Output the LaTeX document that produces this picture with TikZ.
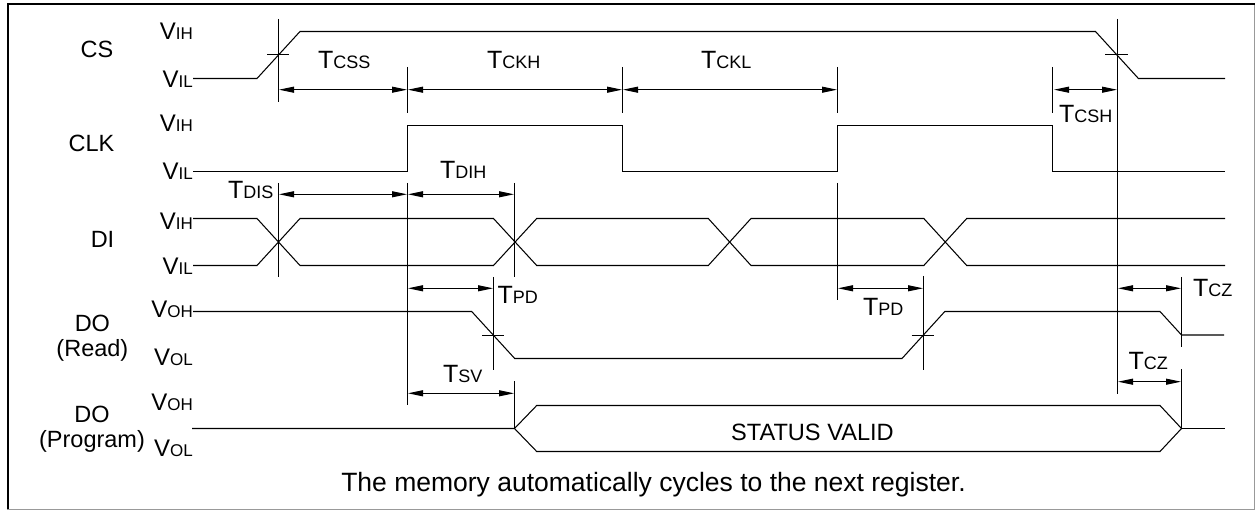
\documentclass[tikz,border=0pt]{standalone}
\usepackage{fontspec}
\setmainfont{Liberation Sans}
\usetikzlibrary{arrows.meta}
\newcommand{\sg}[2]{{\fontsize{24}{26}\selectfont #1\fontsize{17}{20}\selectfont #2}}
\newcommand{\tg}[2]{{\fontsize{25}{27}\selectfont #1\fontsize{18}{20}\selectfont #2}}
\tikzset{
  wave/.style={line width=1.05pt,line join=miter},
  guide/.style={line width=0.9pt},
  dim/.style={line width=0.9pt,{Triangle[length=15pt,width=6pt]}-{Triangle[length=15pt,width=6pt]},shorten >=0.5pt,shorten <=0.5pt},
  sig/.style={font=\fontsize{23.5}{25}\selectfont,align=center,inner sep=0pt,anchor=center},
  lev/.style={inner sep=0pt,anchor=base east},
  tl/.style={inner sep=0pt,anchor=base west},
}
\begin{document}
\begin{tikzpicture}[x=1pt,y=-1pt]
\useasboundingbox (0,0) rectangle (1255,510);
\fill[white] (0,0) rectangle (1255,510);
% frame
\draw[line width=1pt,black!40] (7,509.4) -- (1254.4,509.4) -- (1254.4,3);
\draw[line width=2.4pt,black] (8.2,509) -- (8.2,3.8) -- (1255,3.8);
% signal names
\node[sig] (ncs) at (97,49) {CS};
\node[sig] (nclk) at (91.4,143) {CLK};
\node[sig] (ndi) at (102.5,239) {DI};
\node[sig] (nread) at (92.4,338.5) {DO\\(Read)};
\node[sig] (nprog) at (92,429.5) {DO\\(Program)};
% level labels
\node[lev] (a1) at (193,39.3) {\sg{V}{IH}};
\node[lev] (a2) at (193,87.3) {\sg{V}{IL}};
\node[lev] (a3) at (193,131.7) {\sg{V}{IH}};
\node[lev] (a4) at (193,180) {\sg{V}{IL}};
\node[lev] (a5) at (193,230) {\sg{V}{IH}};
\node[lev] (a6) at (193,275) {\sg{V}{IL}};
\node[lev] (a7) at (193,318) {\sg{V}{OH}};
\node[lev] (a8) at (193,365) {\sg{V}{OL}};
\node[lev] (a9) at (193,410) {\sg{V}{OH}};
\node[lev] (a10) at (193,456) {\sg{V}{OL}};
% CS
\draw[wave] (193,78.5) -- (257,78.5) -- (300,31.5) -- (1095.5,31.5) -- (1138.4,78.5) -- (1225,78.5);
% CLK
\draw[wave] (193,171.5) -- (407.5,171.5) -- (407.5,125.5) -- (622.5,125.5) -- (622.5,171.5) -- (837.5,171.5) -- (837.5,125.5) -- (1052.5,125.5) -- (1052.5,171.5) -- (1225,171.5);
% DI
\draw[wave] (193,218.5) -- (257,218.5) -- (300,265.5) -- (493.5,265.5) -- (536.7,218.5) -- (708.3,218.5) -- (751,265.5) -- (923.8,265.5) -- (966.7,218.5) -- (1225,218.5);
\draw[wave] (193,265.5) -- (257,265.5) -- (300,218.5) -- (493.5,218.5) -- (536.7,265.5) -- (708.3,265.5) -- (751,218.5) -- (923.8,218.5) -- (966.7,265.5) -- (1225,265.5);
% DO read
\draw[wave] (193,311.5) -- (471.7,311.5) -- (514.7,358.5) -- (902,358.5) -- (944.8,311.5) -- (1160,311.5) -- (1181.5,335) -- (1224,335);
% DO program
\draw[wave] (192,428.5) -- (514.5,428.5) -- (536.7,405.5) -- (1160,405.5) -- (1181.5,428.5) -- (1160,451.5) -- (536.7,451.5) -- (514.5,428.5);
\draw[wave] (1181.5,428.5) -- (1225,428.5);
% guides
\coordinate (g1a) at (278.5,19);   \coordinate (g1b) at (278.5,102);
\coordinate (g2a) at (407.5,67);   \coordinate (g2b) at (407.5,113);
\coordinate (g3a) at (622.5,67); \coordinate (g3b) at (622.5,113);
\coordinate (g4a) at (837.5,67);   \coordinate (g4b) at (837.5,113);
\coordinate (g5a) at (1052.5,67);  \coordinate (g5b) at (1052.5,113);
\coordinate (g6a) at (1117.5,19);  \coordinate (g6b) at (1117.5,394);
\coordinate (g7a) at (278.5,183);  \coordinate (g7b) at (278.5,277);
\coordinate (g8a) at (407.5,183);  \coordinate (g8b) at (407.5,405);
\coordinate (g9a) at (514.5,183);\coordinate (g9b) at (514.5,277);
\coordinate (g10a) at (837.5,183); \coordinate (g10b) at (837.5,300);
\coordinate (g11a) at (493.5,277); \coordinate (g11b) at (493.5,370);
\coordinate (g12a) at (923.5,276);\coordinate (g12b) at (923.5,370);
\coordinate (g13a) at (1181.5,277);\coordinate (g13b) at (1181.5,346.7);
\coordinate (g14a) at (1181.5,369.3);\coordinate (g14b) at (1181.5,428.5);
\coordinate (g15a) at (514.5,381);\coordinate (g15b) at (514.5,428.5);
\foreach \g in {1,...,15} \draw[guide] (g\g a) -- (g\g b);
% crossing ticks
\draw[guide] (267,54.5) -- (289,54.5);
\draw[guide] (1105,54.5) -- (1128,54.5);
\draw[guide] (482,335) -- (504,335);
\draw[guide] (911.6,335) -- (934.3,335);
% dimension arrows
\draw[dim] (278.5,89.7) -- (407.5,89.7);
\draw[dim] (407.5,89.7) -- (622.5,89.7);
\draw[dim] (622.5,89.7) -- (837.5,89.7);
\draw[dim] (1053.5,89.7) -- (1117.5,89.7);
\draw[dim] (278.5,194.3) -- (407.5,194.3);
\draw[dim] (407.5,194.3) -- (514.5,194.3);
\draw[dim] (407.5,288.3) -- (493.5,288.3);
\draw[dim] (837.5,288.3) -- (923.5,288.3);
\draw[dim] (1117.5,288.3) -- (1181.5,288.3);
\draw[dim] (407.5,393.3) -- (514.5,393.3);
\draw[dim] (1117.5,381.7) -- (1181.5,381.7);
% timing labels
\node[tl] (t1) at (318,68.3) {\tg{T}{CSS}};
\node[tl] (t2) at (487,68.3) {\tg{T}{CKH}};
\node[tl] (t3) at (701,68.3) {\tg{T}{CKL}};
\node[tl] (t4) at (1059,122.3) {\tg{T}{CSH}};
\node[tl] (t5) at (440,179) {\tg{T}{DIH}};
\node[tl] (t6) at (228,198.7) {\tg{T}{DIS}};
\node[tl] (t7) at (497.4,304) {\tg{T}{PD}};
\node[tl] (t8) at (863,316) {\tg{T}{PD}};
\node[tl] (t9) at (1193,296.7) {\tg{T}{CZ}};
\node[tl] (t10) at (1128.3,370) {\tg{T}{CZ}};
\node[tl] (t11) at (443,382.3) {\tg{T}{SV}};
\node[inner sep=0pt,anchor=base,font=\fontsize{23.6}{26}\selectfont] (sv) at (812.4,440) {STATUS VALID};
\node[inner sep=0pt,anchor=base,font=\fontsize{26.5}{30}\selectfont] (cap) at (653.5,491.7) {The memory automatically cycles to the next register.};
\end{tikzpicture}
\end{document}
